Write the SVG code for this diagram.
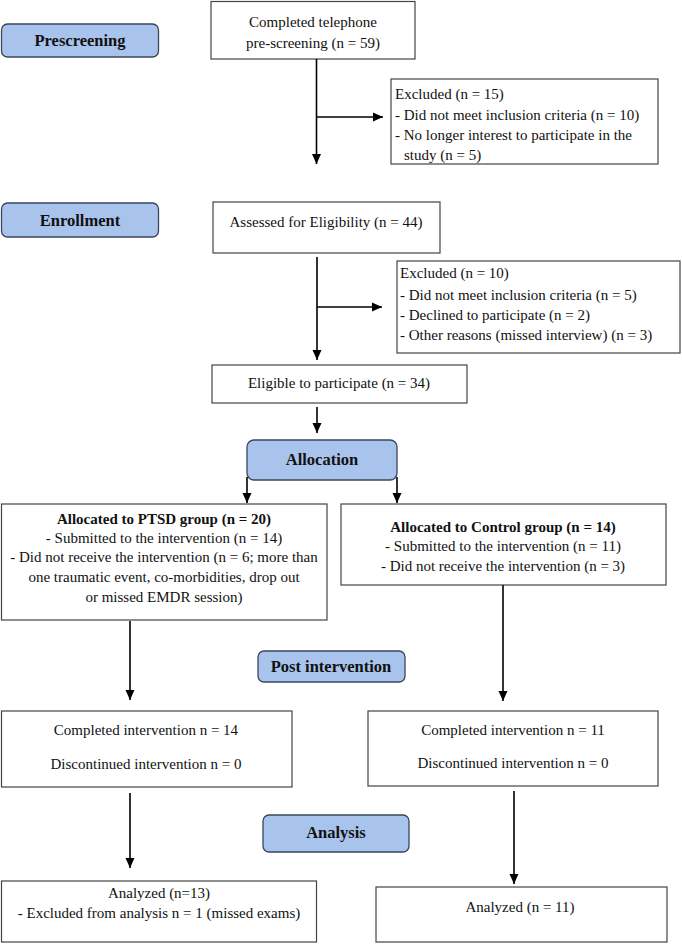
<svg xmlns="http://www.w3.org/2000/svg" width="682" height="944" viewBox="0 0 682 944">
<defs>
<marker id="ah" markerUnits="userSpaceOnUse" markerWidth="10" markerHeight="10" viewBox="0 0 10 10" refX="10" refY="5" orient="auto">
<path d="M0,0.5 L10,5 L0,9.5 Z" fill="#000"/>
</marker>
<style>
.box{fill:#fff;stroke:#444;stroke-width:1.2}
.pill{fill:#a9c4ec;stroke:#3a4558;stroke-width:1.3}
.t{font-family:"Liberation Serif","Times New Roman",serif;font-size:15px;fill:#111}
.c{text-anchor:middle}
.b{font-weight:bold}
.pt{font-family:"Liberation Serif","Times New Roman",serif;font-size:16.5px;font-weight:bold;fill:#111;text-anchor:middle}
.ln{stroke:#000;stroke-width:1.6;fill:none}
.ar{stroke:#000;stroke-width:1.6;fill:none;marker-end:url(#ah)}
</style>
</defs>

<g id="stage-prescreening">
<rect class="pill" x="1.5" y="24" width="157" height="33" rx="6"/>
<text class="pt" x="80" y="46">Prescreening</text>
</g>
<g id="stage-enrollment">
<rect class="pill" x="1.5" y="203" width="157" height="34" rx="6"/>
<text class="pt" x="80" y="226">Enrollment</text>
</g>
<g id="stage-allocation">
<rect class="pill" x="247" y="440" width="150" height="40" rx="7"/>
<text class="pt" x="322" y="465">Allocation</text>
</g>
<g id="stage-post">
<rect class="pill" x="258" y="651" width="147" height="31" rx="6"/>
<text class="pt" x="331" y="672">Post intervention</text>
</g>
<g id="stage-analysis">
<rect class="pill" x="263" y="815" width="146" height="37" rx="6"/>
<text class="pt" x="336" y="838">Analysis</text>
</g>

<g id="n-prescreen">
<rect class="box" x="211" y="1.5" width="204" height="57.5"/>
<text class="t c" x="313" y="27">Completed telephone</text>
<text class="t c" x="313" y="48">pre-screening (n = 59)</text>
</g>
<g id="n-excluded1">
<rect class="box" x="391" y="79" width="267" height="85"/>
<text class="t" x="395" y="99">Excluded (n = 15)</text>
<text class="t" x="395" y="120">- Did not meet inclusion criteria (n = 10)</text>
<text class="t" x="395" y="140">- No longer interest to participate in the</text>
<text class="t" x="404" y="160">study (n = 5)</text>
</g>
<g id="n-assessed">
<rect class="box" x="213" y="202" width="227" height="51"/>
<text class="t c" x="326" y="227">Assessed for Eligibility (n = 44)</text>
</g>
<g id="n-excluded2">
<rect class="box" x="397" y="261" width="283" height="92"/>
<text class="t" x="400" y="278">Excluded (n = 10)</text>
<text class="t" x="400" y="300">- Did not meet inclusion criteria (n = 5)</text>
<text class="t" x="400" y="320">- Declined to participate (n = 2)</text>
<text class="t" x="400" y="340">- Other reasons (missed interview) (n = 3)</text>
</g>
<g id="n-eligible">
<rect class="box" x="212" y="365" width="255" height="38"/>
<text class="t c" x="339" y="388">Eligible to participate (n = 34)</text>
</g>
<g id="n-ptsd">
<rect class="box" x="1.5" y="504" width="325.5" height="116"/>
<text class="t c b" x="164" y="524">Allocated to PTSD group  (n = 20)</text>
<text class="t c" x="164" y="543">- Submitted to the intervention (n = 14)</text>
<text class="t c" x="164" y="562">- Did not receive the intervention (n = 6; more than</text>
<text class="t c" x="164" y="582">one traumatic event, co-morbidities, drop out</text>
<text class="t c" x="164" y="602">or missed EMDR session)</text>
</g>
<g id="n-control">
<rect class="box" x="341" y="504" width="325" height="81"/>
<text class="t c b" x="503" y="532">Allocated to Control group (n = 14)</text>
<text class="t c" x="503" y="551">- Submitted to the intervention (n = 11)</text>
<text class="t c" x="503" y="571">- Did not receive the intervention (n = 3)</text>
</g>
<g id="n-completed-ptsd">
<rect class="box" x="1.5" y="711" width="290.5" height="76"/>
<text class="t c" x="146" y="735">Completed intervention n = 14</text>
<text class="t c" x="146" y="769">Discontinued intervention n = 0</text>
</g>
<g id="n-completed-control">
<rect class="box" x="368" y="711" width="290" height="75"/>
<text class="t c" x="513" y="735">Completed intervention n = 11</text>
<text class="t c" x="513" y="768">Discontinued intervention n = 0</text>
</g>
<g id="n-analyzed-ptsd">
<rect class="box" x="1.5" y="881" width="315" height="61"/>
<text class="t c" x="159" y="898">Analyzed (n=13)</text>
<text class="t c" x="159" y="918">- Excluded from analysis n = 1 (missed exams)</text>
</g>
<g id="n-analyzed-control">
<rect class="box" x="376" y="887" width="291" height="55"/>
<text class="t c" x="520" y="912">Analyzed (n = 11)</text>
</g>

<g id="connectors">
<line class="ar" x1="316.5" y1="59" x2="316.5" y2="164"/>
<line class="ar" x1="316.5" y1="117" x2="383" y2="117"/>
<line class="ar" x1="317" y1="257" x2="317" y2="360"/>
<line class="ar" x1="317" y1="307" x2="382" y2="307"/>
<line class="ar" x1="317" y1="407" x2="317" y2="433"/>
<line class="ar" x1="247" y1="477" x2="247" y2="503"/>
<line class="ar" x1="397" y1="477" x2="397" y2="503"/>
<line class="ar" x1="130" y1="621" x2="130" y2="700"/>
<line class="ar" x1="503" y1="585" x2="503" y2="701"/>
<line class="ar" x1="130" y1="793" x2="130" y2="868"/>
<line class="ar" x1="514" y1="791" x2="514" y2="884"/>
</g>
</svg>
